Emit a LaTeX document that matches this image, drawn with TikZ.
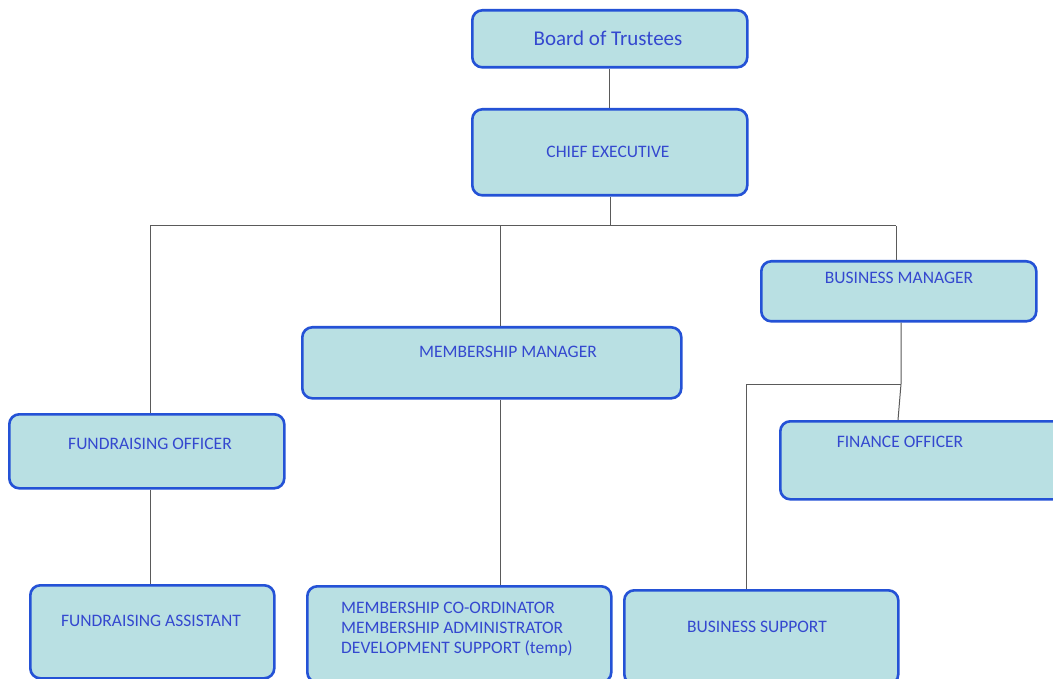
\documentclass[tikz,border=0pt]{standalone}
\usepackage{fontspec}
\setmainfont{Carlito}
\definecolor{boxfill}{HTML}{B9E0E3}
\definecolor{boxline}{HTML}{2452D6}
\definecolor{boxtext}{HTML}{3448CF}
\definecolor{connc}{HTML}{5A5A5A}
\begin{document}
\begin{tikzpicture}[x=1pt,y=-1pt,
 box/.style={draw=boxline, line width=2.6pt, fill=boxfill, rounded corners=10pt, inner sep=0pt, anchor=north west},
 txt/.style={text=boxtext, font=\fontsize{17.5}{20}\selectfont, inner sep=0pt},
 bigtxt/.style={text=boxtext, font=\fontsize{21}{24}\selectfont, inner sep=0pt},
 conn/.style={draw=connc, line width=1pt}]
\clip (0,0) rectangle (1053,679);
\fill[white] (0,0) rectangle (1053,679);
% boxes
\node[box, minimum width=275, minimum height=57] (board) at (471,9) {};
\node[box, minimum width=275, minimum height=86] (ce) at (471,108) {};
\node[box, minimum width=275, minimum height=60] (bm) at (760,260) {};
\node[box, minimum width=379, minimum height=71] (mm) at (301,326) {};
\node[box, minimum width=275, minimum height=74] (fo) at (8,413) {};
\node[box, minimum width=290, minimum height=78] (fin) at (779,420) {};
\node[box, minimum width=244, minimum height=93] (fa) at (29,584) {};
\node[box, minimum width=304, minimum height=96] (ms) at (306,585) {};
\node[box, minimum width=274, minimum height=94] (bs) at (623,589) {};
% texts
\node[bigtxt] (boardt) at (608,38) {Board of Trustees};
\node[txt] (cet) at (608,152) {CHIEF EXECUTIVE};
\node[txt] (bmt) at (899,278) {BUSINESS MANAGER};
\node[txt] (mmt) at (508,352) {MEMBERSHIP MANAGER};
\node[txt] (fot) at (150,444) {FUNDRAISING OFFICER};
\node[txt] (fint) at (900,442) {FINANCE OFFICER};
\node[txt] (fat) at (151,621) {FUNDRAISING ASSISTANT};
\node[txt, align=left, anchor=west] (mst) at (341,629) {MEMBERSHIP CO-ORDINATOR\\MEMBERSHIP ADMINISTRATOR\\DEVELOPMENT SUPPORT (temp)};
\node[txt] (bst) at (757,627) {BUSINESS SUPPORT};
% connectors
\coordinate (jc) at (610,226);
\coordinate (jl) at (150,226);
\coordinate (jm) at (500,226);
\coordinate (jr) at (896,226);
\coordinate (jb) at (901,384);
\coordinate (jbs) at (746,384);
\draw[conn] (board.south) -- (ce.north);
\draw[conn] (ce.south -| jc) -- (jc);
\draw[conn] (jl) -- (jr);
\draw[conn] (jl) -- (jl |- fo.north);
\draw[conn] (jm) -- (jm |- mm.north);
\draw[conn] (jr) -- (jr |- bm.north);
\draw[conn] (jb |- bm.south) -- (jb) -- (898,420);
\draw[conn] (jb) -- (jbs) -- (jbs |- bs.north);
\draw[conn] (jl |- fo.south) -- (jl |- fa.north);
\draw[conn] (jm |- mm.south) -- (jm |- ms.north);
\end{tikzpicture}
\end{document}
